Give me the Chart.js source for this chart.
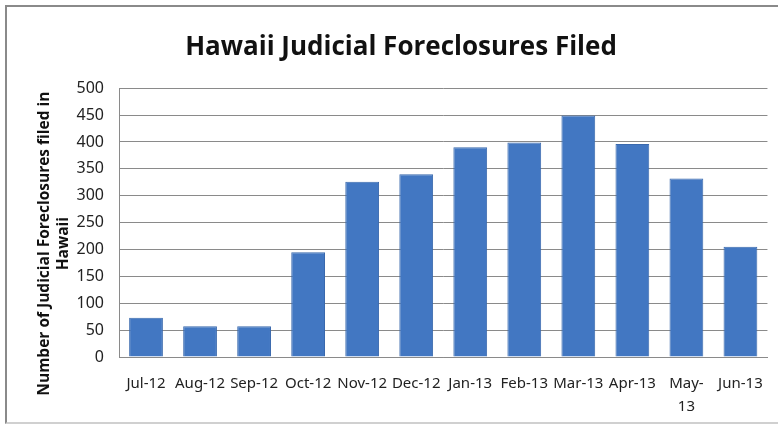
<!DOCTYPE html>
<html>
<head>
<meta charset="utf-8">
<script src="https://cdn.jsdelivr.net/npm/chart.js@4"></script>
<style>
  body { margin: 0; background: #fff; }
  #wrap { position: relative; width: 778px; height: 427px; }
  #frame {
    position: absolute; left: 5px; top: 5px; width: 773px; height: 419px;
    border-left: 2px solid #8a8a8a; border-top: 2px solid #8a8a8a; border-bottom: 2px solid #d0d0d0;
    box-sizing: border-box;
  }
  canvas { position: absolute; left: 0; top: 0; }
</style>
</head>
<body>
<div id="wrap">
  <div id="frame"></div>
  <canvas id="canvas" width="778" height="427"></canvas>
</div>
<script>
const months = ["Jul-12", "Aug-12", "Sep-12", "Oct-12", "Nov-12", "Dec-12",
                "Jan-13", "Feb-13", "Mar-13", "Apr-13", ["May-", "13"], "Jun-13"];
const filed = [73, 57, 57, 195, 326, 340, 390, 399, 449, 396, 332, 205];

const chartTitle = "Hawaii Judicial Foreclosures Filed";
const yTitle = ["Number of Judicial Foreclosures filed in", "Hawaii"];

let ctx = document.getElementById("canvas").getContext("2d");

// y axis title, drawn by hand so it sits a little below the plot's middle
const yTitlePlugin = {
    id: "yTitle",
    afterDraw(chart) {
        const c = chart.ctx;
        const area = chart.chartArea;
        const mid = (area.top + area.bottom) / 2 + 21;
        c.save();
        c.font = "bold 15.5px 'Open Sans', 'Noto Sans', sans-serif";
        c.fillStyle = "#111";
        c.textAlign = "center";
        c.textBaseline = "middle";
        yTitle.forEach((line, i) => {
            c.save();
            c.translate(45 + i * 19, mid);
            c.rotate(-Math.PI / 2);
            c.fillText(line, 0, 0);
            c.restore();
        });
        c.restore();
    },
};

const chart = new Chart(ctx, {
    type: "bar",
    data: {
        labels: months,
        datasets: [
            {
                label: "Foreclosures",
                data: filed,
                backgroundColor: "#4277c2",
                borderColor: "#3a69ad",
                borderWidth: 1,
                categoryPercentage: 1,
                barPercentage: 0.625,
            }
        ],
    },
    plugins: [yTitlePlugin],
    options: {
        responsive: false,
        animation: false,
        layout: { padding: { left: 30, right: 6, top: 0, bottom: 0 } },
        plugins: {
            legend: { display: false },
            tooltip: { enabled: false },
            title: {
                display: true,
                text: chartTitle,
                color: "#111",
                font: { family: "'Open Sans', 'Noto Sans', sans-serif", size: 26, weight: "bold" },
                padding: { top: 32, bottom: 25 },
            },
        },
        scales: {
            x: {
                grid: { display: false, drawTicks: false },
                border: { color: "#8a8a8a", width: 1 },
                ticks: {
                    color: "#222",
                    font: { family: "'Noto Sans', sans-serif", size: 15, lineHeight: 1.55 },
                    padding: 15,
                    maxRotation: 0,
                    autoSkip: false,
                },
                afterFit(scale) { scale.height = 70; },
            },
            y: {
                min: 0,
                max: 500,
                grid: { color: "#8a8a8a", lineWidth: 1, drawTicks: false },
                border: { color: "#8a8a8a", width: 1 },
                ticks: {
                    stepSize: 50,
                    color: "#222",
                    font: { family: "'Noto Sans', sans-serif", size: 16 },
                    padding: 15,
                },
                afterFit(scale) { scale.width = 89; },
            },
        },
    },
});
</script>
</body>
</html>
